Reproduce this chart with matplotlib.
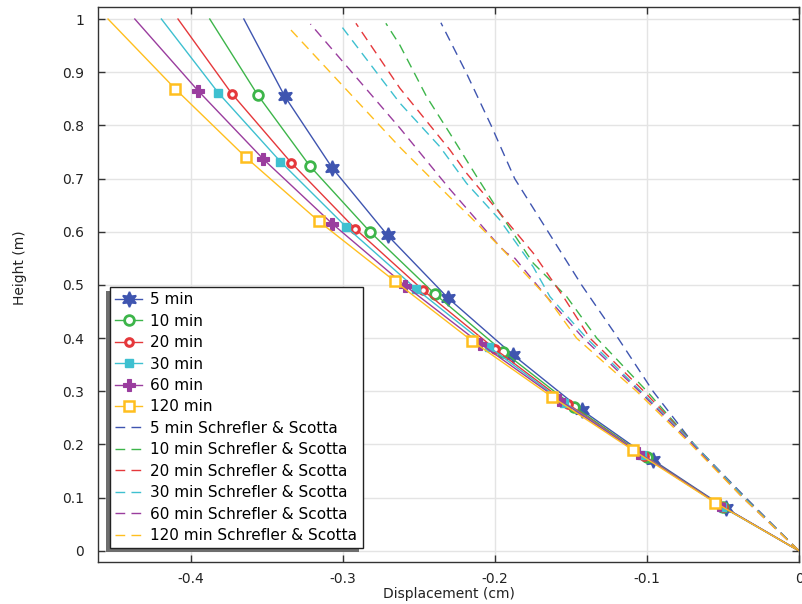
import matplotlib
matplotlib.use('Agg')
import matplotlib.pyplot as plt
from matplotlib.ticker import FuncFormatter
from matplotlib.patches import Rectangle

plt.rcParams['font.family'] = ['DejaVu Sans']
plt.rcParams['axes.unicode_minus'] = False

# ---- data -------------------------------------------------------------
labels = ['5 min', '10 min', '20 min', '30 min', '60 min', '120 min']
ref_suffix = ' Schrefler & Scotta'
colors = ['#3f55b0', '#3db54a', '#e5383b', '#3ec0d0', '#9a3d9e', '#ffbf1f']

# model results (height m, displacement cm); first/last points are ends of curve
h_5 = [0, 0.0803, 0.1711, 0.2650, 0.3684, 0.4756, 0.5934, 0.7194, 0.8547, 1.0]
d_5 = [0, -0.0482, -0.0963, -0.1430, -0.1880, -0.2309, -0.2706, -0.3068, -0.3382, -0.3651]
h_10 = [0, 0.0827, 0.1761, 0.2712, 0.3746, 0.4825, 0.5996, 0.7237, 0.8577, 1.0]
d_10 = [0, -0.0500, -0.1002, -0.1480, -0.1945, -0.2393, -0.2820, -0.3217, -0.3561, -0.3875]
h_20 = [0, 0.0827, 0.1786, 0.2758, 0.3797, 0.4900, 0.6058, 0.7293, 0.8596, 1.0]
d_20 = [0, -0.0503, -0.1018, -0.1518, -0.2000, -0.2472, -0.2919, -0.3338, -0.3730, -0.4084]
h_30 = [0, 0.0833, 0.1810, 0.2788, 0.3840, 0.4930, 0.6085, 0.7318, 0.8609, 1.0]
d_30 = [0, -0.0509, -0.1035, -0.1544, -0.2041, -0.2520, -0.2976, -0.3410, -0.3818, -0.4193]
h_60 = [0, 0.0865, 0.1848, 0.2838, 0.3897, 0.4987, 0.6147, 0.7363, 0.8652, 1.0]
d_60 = [0, -0.0524, -0.1057, -0.1577, -0.2097, -0.2590, -0.3068, -0.3522, -0.3952, -0.4368]
h_120 = [0, 0.0908, 0.1898, 0.2900, 0.3953, 0.5070, 0.6197, 0.7400, 0.8684, 1.0]
d_120 = [0, -0.0553, -0.1094, -0.1627, -0.2153, -0.2658, -0.3158, -0.3638, -0.4101, -0.4544]

# Schrefler & Scotta reference curves
rh_5 = [0, 0.1, 0.2, 0.3, 0.4, 0.5, 0.6, 0.7, 0.8, 0.9, 0.993]
rd_5 = [0, -0.035, -0.069, -0.096, -0.119, -0.143, -0.165, -0.187, -0.2025, -0.219, -0.2355]
rh_10 = [0, 0.1, 0.2, 0.3, 0.4, 0.478, 0.541, 0.635, 0.704, 0.785, 0.854, 0.951, 0.992]
rd_10 = [0, -0.036, -0.069, -0.100, -0.133, -0.1528, -0.1748, -0.1967, -0.2120, -0.2296, -0.2449, -0.2625, -0.2717]
rh_20 = [0, 0.1, 0.2, 0.3, 0.4, 0.478, 0.560, 0.710, 0.754, 0.870, 0.992]
rd_20 = [0, -0.036, -0.069, -0.102, -0.1375, -0.155, -0.1748, -0.2186, -0.2296, -0.2625, -0.2914]
rh_30 = [0, 0.1, 0.2, 0.3, 0.4, 0.478, 0.534, 0.622, 0.691, 0.760, 0.842, 0.992]
rd_30 = [0, -0.036, -0.069, -0.104, -0.1397, -0.1638, -0.1748, -0.1967, -0.2186, -0.2362, -0.2625, -0.3024]
rh_60 = [0, 0.1, 0.2, 0.3, 0.4, 0.478, 0.55, 0.56, 0.572, 0.68, 0.795, 0.9906]
rd_60 = [0, -0.037, -0.070, -0.105, -0.1419, -0.166, -0.1868, -0.1923, -0.1967, -0.2296, -0.2625, -0.3213]
rh_120 = [0, 0.1, 0.2, 0.3, 0.4, 0.478, 0.572, 0.635, 0.665, 0.759, 0.9836]
rd_120 = [0, -0.037, -0.071, -0.1068, -0.1463, -0.166, -0.1967, -0.2186, -0.2296, -0.2625, -0.3355]

x_ticks = [-0.4, -0.3, -0.2, -0.1, 0]
y_ticks = [0, 0.1, 0.2, 0.3, 0.4, 0.5, 0.6, 0.7, 0.8, 0.9, 1]

model = [(h_5, d_5), (h_10, d_10), (h_20, d_20), (h_30, d_30), (h_60, d_60), (h_120, d_120)]
refs = [(rh_5, rd_5), (rh_10, rd_10), (rh_20, rd_20), (rh_30, rd_30), (rh_60, rd_60), (rh_120, rd_120)]

# ---- styles ----------------------------------------------------------
marker_styles = [
    dict(marker=(6, 1, 0), markersize=11, mfc=None, mew=1.2),
    dict(marker='o', markersize=7, mfc='white', mew=2.0),
    dict(marker='o', markersize=5.5, mfc='white', mew=2.2),
    dict(marker='s', markersize=5.5, mfc=None, mew=1.0),
    dict(marker='P', markersize=8, mfc=None, mew=0.8),
    dict(marker='s', markersize=7.5, mfc='white', mew=1.8),
]

fig = plt.figure(figsize=(8.02, 6.04), dpi=100)
ax = fig.add_axes([98 / 802, 42 / 604, (799 - 98) / 802, (562 - 7) / 604])

for (h, d), c, lab, ms in zip(model, colors, labels, marker_styles):
    kw = dict(ms)
    mfc = kw.pop('mfc')
    ax.plot(d, h, color=c, lw=1.0, label=lab,
            markevery=list(range(1, len(h) - 1)),
            markerfacecolor=(c if mfc is None else mfc),
            markeredgecolor=c, **kw)

for (h, d), c, lab in zip(refs, colors, labels):
    ax.plot(d, h, color=c, lw=1.0, ls=(0, (7, 4.5)), label=lab + ref_suffix)

ax.set_xlim(-0.461, 0.0)
ax.set_ylim(-0.021, 1.0226)
ax.set_xticks(x_ticks)
ax.set_yticks(y_ticks)
fmt = FuncFormatter(lambda v, p: '%g' % round(v, 3))
ax.xaxis.set_major_formatter(fmt)
ax.yaxis.set_major_formatter(fmt)
ax.grid(True, color='#e4e4e4', lw=1.0)
ax.set_axisbelow(True)
ax.tick_params(direction='in', top=True, right=True, length=5, width=1,
               color='#333333', labelsize=10, labelcolor='#222222')
ax.tick_params(axis='x', pad=7)
ax.tick_params(axis='y', pad=10)
for s in ax.spines.values():
    s.set_color('#333333')
    s.set_linewidth(1.0)

ax.set_xlabel('Displacement (cm)', fontsize=10, color='#222222', labelpad=1)
ax.set_ylabel('Height (m)', fontsize=10, color='#222222')
ax.yaxis.set_label_coords((27 - 98) / 701, (562 - 268) / 555)

leg = ax.legend(loc='upper left', bbox_to_anchor=(12 / 701, (562 - 287) / 555),
                fontsize=11, frameon=True, fancybox=False, framealpha=1,
                edgecolor='#222222', labelspacing=0.42, handlelength=1.75,
                handletextpad=0.55, borderpad=0.35, borderaxespad=0)
leg.get_frame().set_linewidth(1.0)
leg.set_zorder(10)

fig.canvas.draw()
bb = leg.get_window_extent()
shadow = Rectangle((bb.x0 - 4, bb.y0 - 4), bb.width, bb.height, transform=None,
                   facecolor='#6e6e6e', edgecolor='none', zorder=9, clip_on=False)
ax.add_artist(shadow)

fig.savefig('out.png', dpi=100)
